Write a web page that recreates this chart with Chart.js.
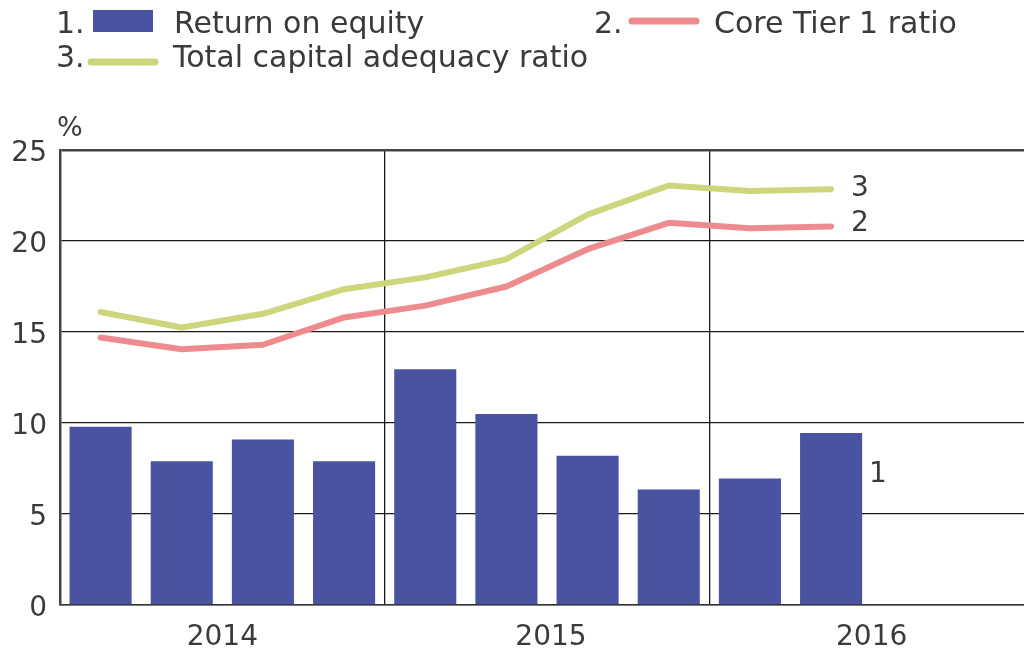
<!DOCTYPE html>
<html>
<head>
<meta charset="utf-8">
<script src="https://cdn.jsdelivr.net/npm/chart.js@4/dist/chart.umd.min.js"></script>
<style>
html,body{margin:0;padding:0;overflow:hidden;background:#fff;width:1024px;height:654px;}
#wrap{position:absolute;left:0;top:0;width:1040px;height:654px;}
</style>
</head>
<body>
<div id="wrap"><canvas id="c" width="1040" height="654"></canvas></div>
<script>
const categories = ['2014 Q1','2014 Q2','2014 Q3','2014 Q4','2015 Q1','2015 Q2','2015 Q3','2015 Q4','2016 Q1','2016 Q2','2016 Q3','2016 Q4'];
const yearLabels = ['2014','2015','2016'];
const returnOnEquity = [9.8, 7.9, 9.1, 7.9, 12.95, 10.5, 8.2, 6.35, 6.95, 9.45, null, null];
const coreTier1 = [14.7, 14.05, 14.3, 15.8, 16.45, 17.5, 19.55, 21.0, 20.7, 20.8, null, null];
const totalCapital = [16.1, 15.25, 16.0, 17.35, 18.0, 19.0, 21.45, 23.05, 22.75, 22.85, null, null];
const yTicks = [0, 5, 10, 15, 20, 25];
const seriesNames = ['Return on equity', 'Core Tier 1 ratio', 'Total capital adequacy ratio'];

const BLUE = '#4a53a1';
const RED = '#ee8b8f';
const GREEN = '#cdd67c';
const TXT = '#3a3a3a';
const FONT = '"DejaVu Sans", sans-serif';

const overlay = {
  id: 'overlay',
  afterDraw(chart) {
    const ctx = chart.ctx;
    const x = chart.scales.x, y = chart.scales.y;
    ctx.save();
    ctx.fillStyle = TXT;
    ctx.textBaseline = 'alphabetic';
    ctx.textAlign = 'left';
    ctx.font = '30px ' + FONT;
    // legend row 1
    ctx.fillText('1.', 56, 33);
    ctx.fillStyle = BLUE;
    ctx.fillRect(93, 10, 60, 22);
    ctx.fillStyle = TXT;
    ctx.fillText(seriesNames[0], 174, 33);
    ctx.fillText('2.', 594, 33);
    ctx.strokeStyle = RED; ctx.lineWidth = 7; ctx.lineCap = 'round';
    ctx.beginPath(); ctx.moveTo(632, 21); ctx.lineTo(696, 21); ctx.stroke();
    ctx.fillText(seriesNames[1], 714, 33);
    // legend row 2
    ctx.fillText('3.', 56, 67);
    ctx.strokeStyle = GREEN;
    ctx.beginPath(); ctx.moveTo(91, 62); ctx.lineTo(155, 62); ctx.stroke();
    ctx.fillText(seriesNames[2], 173, 67);
    // unit
    ctx.font = '27px ' + FONT;
    ctx.fillText('%', 57, 136);
    // year labels
    ctx.font = '28px ' + FONT;
    ctx.textAlign = 'center';
    ctx.textBaseline = 'middle';
    yearLabels.forEach((lab, i) => {
      const px = (x.getPixelForValue(i * 4 + 1) + x.getPixelForValue(i * 4 + 2)) / 2;
      ctx.fillText(lab, px + (i === 1 ? 4 : 0), 638);
    });
    // series end labels
    ctx.textAlign = 'left';
    const last = 9;
    const xl = x.getPixelForValue(last);
    ctx.fillText('3', xl + 20, y.getPixelForValue(totalCapital[last]));
    ctx.fillText('2', xl + 20, y.getPixelForValue(coreTier1[last]) - 3);
    ctx.fillText('1', xl + 38, y.getPixelForValue(returnOnEquity[last]) + 42);
    ctx.restore();
  }
};

new Chart(document.getElementById('c'), {
  data: {
    labels: categories,
    datasets: [
      { type: 'line', label: seriesNames[2], data: totalCapital, borderColor: GREEN, borderWidth: 6, pointRadius: 0, tension: 0, borderJoinStyle: 'round', borderCapStyle: 'round', order: 1 },
      { type: 'line', label: seriesNames[1], data: coreTier1, borderColor: RED, borderWidth: 6, pointRadius: 0, tension: 0, borderJoinStyle: 'round', borderCapStyle: 'round', order: 2 },
      { type: 'bar', label: seriesNames[0], data: returnOnEquity, backgroundColor: BLUE, borderWidth: 0, categoryPercentage: 1, barPercentage: 0.765, order: 3 }
    ]
  },
  options: {
    responsive: false,
    animation: false,
    events: [],
    layout: { padding: { top: 150, right: 6, left: 0, bottom: 0 } },
    plugins: { legend: { display: false }, tooltip: { enabled: false } },
    scales: {
      x: {
        type: 'category',
        offset: true,
        afterFit(s) { s.height = 49; },
        ticks: { display: false },
        grid: {
          offset: true,
          drawTicks: false,
          color: (c) => (c.index === 4 || c.index === 8) ? '#1a1a1a' : 'rgba(0,0,0,0)',
          lineWidth: 1.3
        },
        border: { display: true, color: '#333', width: 1.5 }
      },
      y: {
        min: 0, max: 25,
        afterFit(s) { s.width = 60; },
        afterBuildTicks(s) { s.ticks = yTicks.map(v => ({ value: v })); },
        ticks: {
          font: { family: FONT, size: 28, lineHeight: '7px' },
          color: TXT, padding: 13,
          callback: (v) => ['', String(v)]
        },
        grid: {
          drawTicks: false,
          color: (c) => c.tick && c.tick.value === 25 ? '#444' : '#1a1a1a',
          lineWidth: (c) => c.tick && c.tick.value === 25 ? 2.5 : 1.3
        },
        border: { display: true, color: '#444', width: 2.5 }
      }
    }
  },
  plugins: [overlay]
});
</script>
</body>
</html>
